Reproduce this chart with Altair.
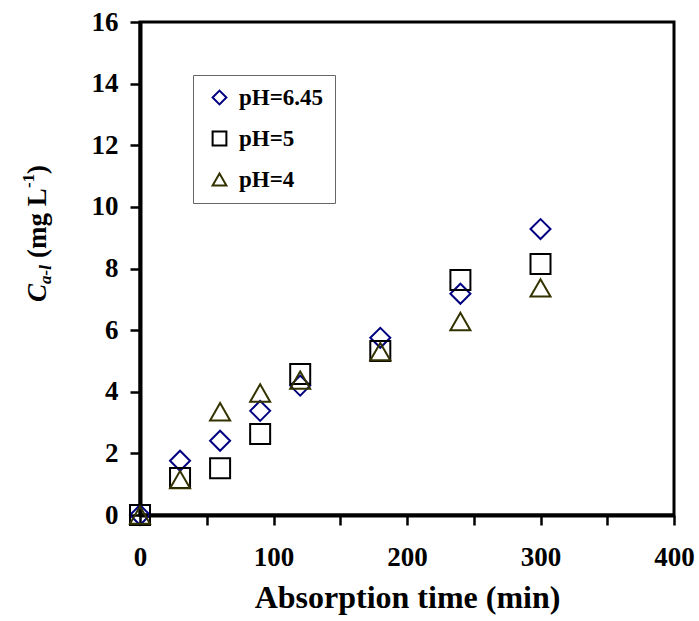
import altair as alt
import pandas as pd

# ---- data ----
time_min = [0, 30, 60, 90, 120, 180, 240, 300]
ph_645 = [0.0, 1.76, 2.41, 3.38, 4.20, 5.75, 7.18, 9.28]
ph_5 = [0.0, 1.20, 1.52, 2.63, 4.58, 5.32, 7.63, 8.15]
ph_4 = [0.0, 1.15, 3.35, 3.96, 4.38, 5.30, 6.28, 7.37]
series_names = ["pH=6.45", "pH=5", "pH=4"]
shapes = ["diamond", "square", "triangle-up"]
colors = ["#000080", "#000000", "#333300"]
x_ticks = [0, 50, 100, 150, 200, 250, 300, 350, 400]
y_ticks = [0, 2, 4, 6, 8, 10, 12, 14, 16]

rows = []
for name, vals in zip(series_names, [ph_645, ph_5, ph_4]):
    for t, v in zip(time_min, vals):
        rows.append({"time": t, "conc": v, "series": name})
df = pd.DataFrame(rows)

FONT = "Liberation Serif"

legend = alt.Legend(
    title=None, orient="none", legendX=53, legendY=53,
    strokeColor="#666666", fillColor="white", padding=11, rowPadding=17,
    symbolSize=190, symbolStrokeWidth=2, symbolOffset=4, labelFont=FONT, labelFontSize=23,
    labelFontWeight="bold", labelColor="black", labelOffset=8,
)

points = alt.Chart(df).mark_point(filled=False, size=400, strokeWidth=2, clip=False, opacity=1).encode(
    x=alt.X("time:Q", scale=alt.Scale(domain=[0, 400], nice=False),
            axis=alt.Axis(values=x_ticks, labelExpr="datum.value % 100 == 0 ? datum.label : ''",
                          labelFlush=False, title="Absorption time (min)")),
    y=alt.Y("conc:Q", scale=alt.Scale(domain=[0, 16], nice=False),
            axis=alt.Axis(values=y_ticks, title=None)),
    shape=alt.Shape("series:N", scale=alt.Scale(domain=series_names, range=shapes), legend=legend),
    color=alt.Color("series:N", scale=alt.Scale(domain=series_names, range=colors), legend=legend),
)


def piece(txt, x, y, size, italic=False):
    return alt.Chart(alt.Data(values=[{}])).mark_text(
        text=txt, angle=270, align="left", baseline="alphabetic", font=FONT,
        fontSize=size, fontWeight="bold", fontStyle="italic" if italic else "normal",
        color="black",
    ).encode(x=alt.value(x), y=alt.value(y))


title_parts = [
    piece("C", -94, 280, 27, True),
    piece("a-l", -89, 262, 17, True),
    piece("(mg L", -94, 236, 27),
    piece("-1", -106, 166, 17),
    piece(")", -94, 152, 27),
]

chart = alt.layer(points, *title_parts).properties(
    width=534, height=493,
    autosize=alt.AutoSizeParams(type="none"),
    padding={"left": 140, "top": 22, "right": 25, "bottom": 106},
    background="white",
).configure_view(
    stroke="black", strokeWidth=3,
).configure_axis(
    grid=False, domainColor="black", domainWidth=4, tickColor="black",
    tickWidth=2.5, tickSize=10, labelFont=FONT, labelFontSize=27,
    labelFontWeight="bold", labelColor="black", titleFont=FONT,
    titleFontSize=32, titleFontWeight="bold", titleColor="black",
).configure_axisY(
    labelPadding=12,
).configure_axisX(
    labelPadding=19, titlePadding=12,
)

chart.save("out.html", embed_options={"renderer": "svg", "actions": False})
